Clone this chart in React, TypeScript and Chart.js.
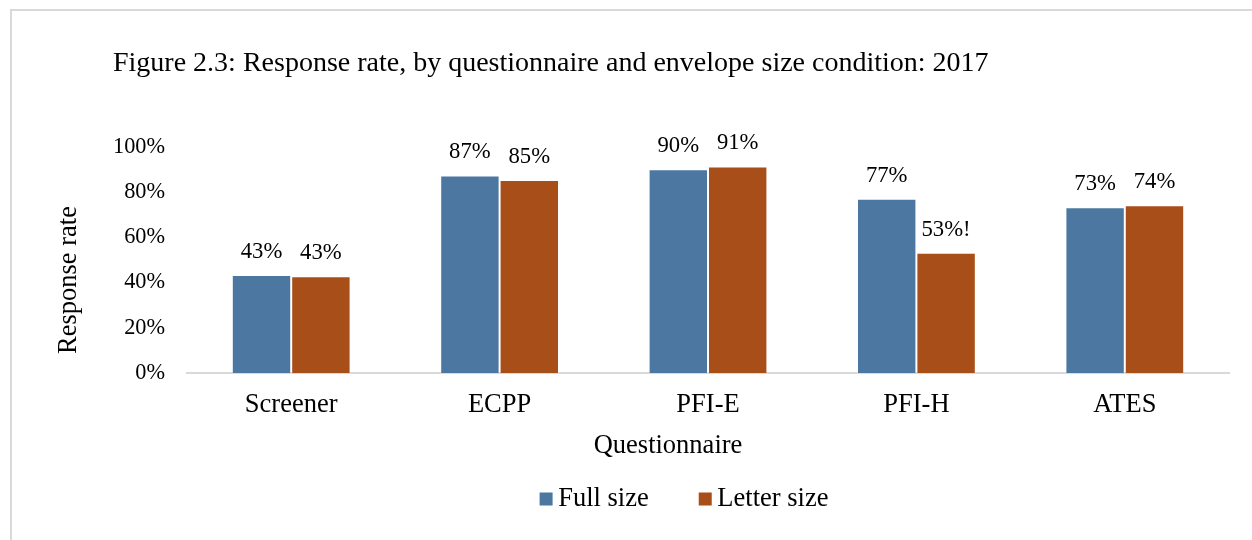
import React, { useEffect, useRef } from "react";
import { Chart, registerables } from "chart.js";

Chart.register(...registerables);

// ---- Data ----
const categories = ["Screener", "ECPP", "PFI-E", "PFI-H", "ATES"];
const fullSize = [43.4, 87.4, 90.1, 77.1, 73.3];
const letterSize = [42.8, 85.4, 91.4, 53.2, 74.2];
const fullNotes = ["", "", "", "", ""];
const letterNotes = ["", "", "", "!", ""];
const seriesNames = ["Full size", "Letter size"];
const seriesColors = ["#4C77A0", "#A84E18"];
const yTickValues = [0, 20, 40, 60, 80, 100];
const titleText =
  "Figure 2.3: Response rate, by questionnaire and envelope size condition: 2017";
const xTitleText = "Questionnaire";
const yTitleText = "Response rate";

const SERIF = "'Liberation Serif', 'Times New Roman', Times, serif";
const notesBySeries = [fullNotes, letterNotes];

const textPlugin = {
  id: "customTexts",
  afterDatasetsDraw(chart: any) {
    const ctx: CanvasRenderingContext2D = chart.ctx;
    ctx.save();
    ctx.fillStyle = "#000";

    // value labels
    ctx.font = `22.7px ${SERIF}`;
    ctx.textAlign = "center";
    ctx.textBaseline = "alphabetic";
    chart.data.datasets.forEach((ds: any, di: number) => {
      const meta = chart.getDatasetMeta(di);
      meta.data.forEach((el: any, i: number) => {
        const v = ds.data[i] as number;
        ctx.fillText(`${Math.round(v)}%${notesBySeries[di][i]}`, el.x, el.y - 17);
      });
    });

    // main title
    ctx.font = `28px ${SERIF}`;
    ctx.textAlign = "left";
    ctx.fillText(titleText, 113, 71);

    // x axis title
    ctx.font = `26.5px ${SERIF}`;
    ctx.textAlign = "center";
    ctx.fillText(xTitleText, 668, 453);

    // y axis title
    ctx.save();
    ctx.translate(76, 280);
    ctx.rotate(-Math.PI / 2);
    ctx.textAlign = "center";
    ctx.fillText(yTitleText, 0, 0);
    ctx.restore();

    // legend
    ctx.font = `26.5px ${SERIF}`;
    ctx.textAlign = "left";
    const box = 13;
    const gapBoxText = 5.6;
    const gapItems = 50;
    const widths = chart.data.datasets.map((ds: any) => ctx.measureText(ds.label).width);
    let total = 0;
    widths.forEach((w: number, i: number) => {
      total += box + gapBoxText + w + (i < widths.length - 1 ? gapItems : 0);
    });
    let x = 684 - total / 2;
    const baseline = 506;
    chart.data.datasets.forEach((ds: any, i: number) => {
      ctx.fillStyle = ds.backgroundColor;
      ctx.fillRect(x, baseline - 13.5, box, box);
      ctx.fillStyle = "#000";
      ctx.fillText(ds.label, x + box + gapBoxText, baseline);
      x += box + gapBoxText + widths[i] + gapItems;
    });

    ctx.restore();
  },
};

export default function App() {
  const canvasRef = useRef<HTMLCanvasElement | null>(null);

  useEffect(() => {
    if (!canvasRef.current) return;
    const chart = new Chart(canvasRef.current, {
      type: "bar",
      data: {
        labels: categories,
        datasets: [
          {
            label: seriesNames[0],
            data: fullSize,
            backgroundColor: seriesColors[0],
            borderColor: "rgba(255,255,255,0.35)",
            borderWidth: 1,
            categoryPercentage: 0.57,
            barPercentage: 1,
          },
          {
            label: seriesNames[1],
            data: letterSize,
            backgroundColor: seriesColors[1],
            borderColor: "rgba(255,255,255,0.35)",
            borderWidth: 1,
            categoryPercentage: 0.57,
            barPercentage: 1,
          },
        ],
      },
      options: {
        responsive: false,
        animation: false,
        devicePixelRatio: 1,
        layout: { padding: { top: 147, bottom: 107, left: 0, right: 23 } },
        plugins: {
          legend: { display: false },
          title: { display: false },
          tooltip: { enabled: false },
        },
        scales: {
          x: {
            grid: { display: false, drawTicks: false },
            border: { display: true, color: "#D9D9D9", width: 2 },
            ticks: {
              color: "#000",
              padding: 16,
              font: { family: SERIF, size: 26.5 },
            },
            afterFit: (scale: any) => {
              scale.height = 60;
            },
          },
          y: {
            min: 0,
            max: 100,
            grid: { display: false, drawTicks: false },
            border: { display: false },
            afterBuildTicks: (scale: any) => {
              scale.ticks = yTickValues.map((v) => ({ value: v }));
            },
            ticks: {
              color: "#000",
              padding: 22,
              font: { family: SERIF, size: 22.3 },
              callback: (v: any) => `${v}%`,
            },
            afterFit: (scale: any) => {
              scale.width = 187;
            },
          },
        },
      },
      plugins: [textPlugin],
    });
    return () => chart.destroy();
  }, []);

  return (
    <div
      style={{
        position: "fixed",
        left: 0,
        top: 0,
        width: 1252,
        height: 540,
        background: "#fff",
        overflow: "hidden",
      }}
    >
      <div
        style={{
          position: "absolute",
          left: 10,
          top: 9,
          width: 1400,
          height: 700,
          borderLeft: "2px solid #D9D9D9",
          borderTop: "2px solid #D9D9D9",
        }}
      />
      <canvas
        ref={canvasRef}
        width={1252}
        height={540}
        style={{ position: "absolute", left: 0, top: 0, display: "block" }}
      />
    </div>
  );
}
